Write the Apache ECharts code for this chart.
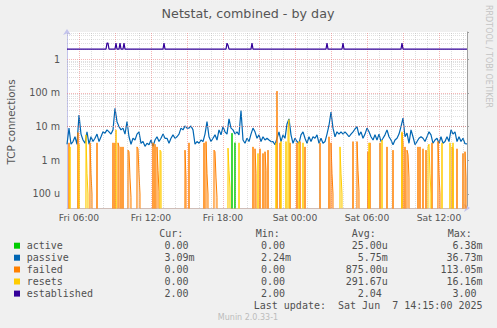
<!DOCTYPE html>
<html><head><meta charset="utf-8">
<script src="https://cdn.jsdelivr.net/npm/echarts@6/dist/echarts.min.js"></script>
<style>html,body{margin:0;padding:0;background:#f0f0f0}#c{width:497px;height:328px}</style>
</head><body><div id="c"></div>
<script>
// ---------------- data ----------------
const chartTitle = 'Netstat, combined - by day';
const yAxisTitle = 'TCP connections';
const xStartHour = 5;            // Fri 05:00 (hours since Fri 00:00)
const xEndHour = 38 + 1 / 3;     // Sat 14:20
const xLabelHours = [6, 12, 18, 24, 30, 36];
const xLabelTexts = ['Fri 06:00', 'Fri 12:00', 'Fri 18:00', 'Sat 00:00', 'Sat 06:00', 'Sat 12:00'];
const yMin = 3.84e-5, yMax = 6.43;
const yLabelValues = [1e-4, 1e-3, 1e-2, 1e-1, 1];
const yLabelTexts = ['100 u', '1 m', '10 m', '100 m', '1'];

// passive, milli-connections per second, every 10 minutes from Fri 05:00
const passiveStepMin = 10;
const passiveMilli = [
 3.0,9,3,3.6,5,3,22,6,4,3.2,7,3,5,3.6,4.5,6,3.6,5,7,6.4,8,7,6,8,35,14,10,8,9,6,14,5,3,4.5,4,6,7,3.2,3.6,2.6,3.2,2.9,4,2.6,4,5,3.6,4.5,6,4.5,
 4.5,3.2,4.5,5.7,4.5,5,6,9,8,10.5,9,9,10.5,8,3,3.6,3.2,4,3.6,6,14,5,3.6,4.5,5.7,4,8,5.7,10,7,6,17,9,8,6,7,5.7,30,4,3.2,4.5,3.6,6,9,7,4.5,5.7,3.6,5,4,
 4.5,4,3.6,3.6,2.9,4.5,7,3.6,5.7,4.5,12,17,5.7,3.2,4.5,3.6,3.2,5.7,7,4.5,3.2,5,3.6,5,4.5,5.7,3.2,4.5,3.2,3.6,6,11,27,9,5,7,6,7,6,7,6,5,6,7,8.5,10,5.5,7,4.5,6,
 9,7,5,4,5.7,4,6,3.6,4.5,5.7,8,5,4,2.9,4,4.5,6,10,18,5,6.4,3.2,8,5,2.9,3.6,4.5,5,4.5,3.6,5,7,5.7,3.2,4,4.5,3.2,5,3.2,3.6,5,3.6,8,6,7,3.6,5,3.6,4.5,3.1,3.09
];
// non-zero 5-minute samples: [minutes since Fri 00:00, milli-value]
const failedPoints = [
 [310,3.3],[355,6.67],[415,3.3],[420,0.4],[425,0.1],[450,3.3],[530,3.3],[540,3.3],[555,3.3],[560,2.5],[570,2.5],[580,2.5],
 [605,2.0],[610,1.8],[615,0.3],[620,0.08],[650,2.5],[655,2.2],[660,0.4],[665,0.1],[730,3.3],[740,3.0],[750,2.5],[755,0.5],[760,0.12],
 [890,2.0],[895,0.3],[910,3.3],[985,3.3],[995,3.6],[1000,0.4],[1005,0.1],[1035,2.0],[1040,1.8],[1045,0.3],[1050,0.08],
 [1230,2.5],[1240,2.2],[1245,0.4],[1265,2.2],[1280,1.6],[1290,1.8],[1295,0.5],[1305,2.0],[1350,113.05],[1365,3.3],[1415,3.3],
 [1450,3.3],[1465,3.6],[1490,2.5],[1565,3.3],[1610,5],[1620,3.3],[1625,0.4],[1630,0.1],[1730,3.6],[1750,3.6],[1755,0.5],[1760,0.12],
 [1805,1.8],[1815,3.3],[1865,3.3],[1900,2.5],[1930,2.0],[1975,6.4],[1980,3.3],[1990,2.5],[2000,2.0],[2005,1.5],[2010,0.3],
 [2055,2.5],[2065,2.5],[2080,2.2],[2095,2.0],[2125,3.3],[2155,3.6],[2160,0.4],[2165,0.1],[2225,2.5],[2230,2.2],[2250,2.2],[2280,1.6],[2290,1.8],[2295,0.3]
];
const resetsPoints = [
 [315,2.5],[360,3.0],[395,5.7],[400,0.4],[405,0.1],[545,8],[765,2],[770,1.8],[1105,2.3],[1110,0.5],[1115,0.15],[1160,3.3],
 [1255,1.6],[1345,3.3],[1370,3.6],[1395,3.6],[1405,8],[1410,16.16],[1460,3.6],[1480,3.3],[1665,2.5],[1670,0.4],[1675,0.1],
 [1810,3.3],[1875,4],[1975,7],[2105,2.5],[2110,3],[2115,0.4],[2120,0.1],[2175,3.3],[2215,3.3],[2230,3.3]
];
const activePoints = [[1125,6.38],[1140,3.33]];
const establishedBase = 2;
const establishedPoints = [[500,3],[505,3],[545,3],[565,3],[585,3],[785,3],[1100,3],[1105,2.6],[1225,3],[1600,3],[1680,3],[1975,3]];

const legendNames = ['active', 'passive', 'failed', 'resets', 'established'];
const legendColors = ['#00cc00', '#0066b3', '#ff8000', '#ffcc00', '#330099'];
const curVals = ['0.00', '3.09', '0.00', '0.00', '2.00'];
const curUnits = ['', 'm', '', '', ''];
const minVals = ['0.00', '2.24', '0.00', '0.00', '2.00'];
const minUnits = ['', 'm', '', '', ''];
const avgVals = ['25.00', '5.75', '875.00', '291.67', '2.04'];
const avgUnits = ['u', 'm', 'u', 'u', ''];
const maxVals = ['6.38', '36.73', '113.05', '16.16', '3.00'];
const maxUnits = ['m', 'm', 'm', 'm', ''];
const lastUpdate = 'Last update:  Sat Jun\u00a0\u00a07 14:15:00 2025';
const footer = 'Munin 2.0.33-1';
const sideText = 'RRDTOOL / TOBI OETIKER';

// ---------------- build ----------------
const FLOOR = 1e-20;
function spikeSeries(points, base, unit) {
  const pts = points.slice().sort((a, b) => a[0] - b[0]);
  const out = [[xStartHour, base]];
  for (let i = 0; i < pts.length; i++) {
    const t = pts[i][0], v = pts[i][1];
    const prev = i > 0 ? pts[i - 1][0] : -1e9;
    const next = i < pts.length - 1 ? pts[i + 1][0] : 1e9;
    if (t - 5 > prev) out.push([(t - 5) / 60, base]);
    out.push([t / 60, v * unit]);
    if (t + 5 < next) out.push([(t + 5) / 60, base]);
  }
  out.push([xEndHour, base]);
  return out;
}
const passiveData = passiveMilli.map((v, i) => [xStartHour + i * passiveStepMin / 60, v * 1e-3]);

// grid lines
const vMinor = [], vMajor = [];
for (let h = Math.ceil(xStartHour) + 1; h <= Math.floor(xEndHour); h++) (h % 3 === 0 ? vMajor : vMinor).push({ xAxis: h });
const hMinor = [];
for (let e = -5; e <= 0; e++) for (let k = 2; k <= 9; k++) { const v = k * Math.pow(10, e); if (v > yMin && v < yMax) hMinor.push({ yAxis: v }); }
const hMajor = yLabelValues.map(v => ({ yAxis: v }));

const gridMinor = 'rgba(170,170,170,0.38)';
const gridMajor = 'rgba(235,110,110,0.5)';
function gridSeries(data, color, z) {
  return {
    type: 'line', data: [[xStartHour, 1]], symbol: 'none', lineStyle: { opacity: 0 }, silent: true, z: z,
    markLine: { silent: true, symbol: 'none', label: { show: false }, animation: false,
      lineStyle: { color: color, width: 1, type: [1, 1] }, emphasis: { disabled: true }, data: data }
  };
}

const chart = echarts.init(document.getElementById('c'), null, { renderer: 'svg' });
const mono = 'DejaVu Sans Mono';
const rowY = [245.7, 257.7, 269.5, 281.5, 293.6];
const colUnitX = [188.5, 285, 381.8, 476.5];
const graphics = [
  { type: 'text', x: 248, y: 13, style: { text: chartTitle, fill: '#555', font: '12.7px "DejaVu Sans"', align: 'center', verticalAlign: 'middle' } },
  { type: 'text', x: 11, y: 122, rotation: Math.PI / 2, style: { text: yAxisTitle, fill: '#555', font: '10.4px "DejaVu Sans"', align: 'center', verticalAlign: 'middle' } },
  { type: 'text', x: 488, y: 5, rotation: -Math.PI / 2, style: { text: sideText, fill: '#c4c4c4', font: '8px "DejaVu Sans"', align: 'left', verticalAlign: 'middle' } },
  { type: 'text', x: 248, y: 317, style: { text: footer, fill: '#bcbcbc', font: '8px "DejaVu Sans"', align: 'center', verticalAlign: 'middle' } },
  { type: 'text', x: 482.5, y: 305.5, style: { text: lastUpdate, fill: '#505050', font: '10px "' + mono + '"', align: 'right', verticalAlign: 'middle' } }
];
const headers = ['Cur:', 'Min:', 'Avg:', 'Max:'];
const headerX = [159.3, 255.7, 351.7, 447.7];
headers.forEach((h, i) => graphics.push({ type: 'text', x: headerX[i], y: 233.5, style: { text: h, fill: '#505050', font: '10px "' + mono + '"', align: 'left', verticalAlign: 'middle' } }));
const cols = [[curVals, curUnits], [minVals, minUnits], [avgVals, avgUnits], [maxVals, maxUnits]];
legendNames.forEach((n, r) => {
  graphics.push({ type: 'rect', shape: { x: 14, y: rowY[r] - 3, width: 6, height: 6 }, style: { fill: legendColors[r] } });
  graphics.push({ type: 'text', x: 26.7, y: rowY[r], style: { text: n, fill: '#505050', font: '10px "' + mono + '"', align: 'left', verticalAlign: 'middle' } });
  cols.forEach((c, ci) => {
    graphics.push({ type: 'text', x: colUnitX[ci], y: rowY[r], style: { text: c[0][r], fill: '#505050', font: '10px "' + mono + '"', align: 'right', verticalAlign: 'middle' } });
    if (c[1][r]) graphics.push({ type: 'text', x: colUnitX[ci], y: rowY[r], style: { text: c[1][r], fill: '#505050', font: '10px "' + mono + '"', align: 'left', verticalAlign: 'middle' } });
  });
});

const axisCol = '#c4c4ec';
chart.setOption({
  animation: false,
  backgroundColor: '#f0f0f0',
  textStyle: { fontFamily: 'DejaVu Sans' },
  grid: { left: 67, top: 32, width: 400, height: 176, show: true, backgroundColor: '#ffffff', borderWidth: 0, containLabel: false, outerBoundsMode: 'none' },
  xAxis: {
    type: 'value', min: xStartHour, max: xEndHour, interval: 1,
    axisLine: { show: true, lineStyle: { color: axisCol, width: 1 }, symbol: ['none', 'arrow'], symbolSize: [6, 6], symbolOffset: [0, 3] },
    axisTick: { show: false }, splitLine: { show: false },
    axisLabel: { margin: 5, color: '#555', fontSize: 9.2, showMinLabel: true, showMaxLabel: true,
      formatter: v => { const i = xLabelHours.findIndex(h => Math.abs(h - v) < 1e-6); return i >= 0 ? xLabelTexts[i] : ''; } }
  },
  yAxis: [{
    type: 'log', logBase: 10, min: yMin, max: yMax,
    axisLine: { show: true, lineStyle: { color: axisCol, width: 1 }, symbol: ['none', 'arrow'], symbolSize: [6, 6], symbolOffset: [0, 3] },
    axisTick: { show: false }, splitLine: { show: false }, minorSplitLine: { show: false },
    axisLabel: { margin: 7, color: '#555', fontSize: 9.6,
      formatter: v => { const i = yLabelValues.findIndex(l => Math.abs(Math.log10(v) - Math.log10(l)) < 1e-6); return i >= 0 ? yLabelTexts[i] : ''; } }
  }, {
    type: 'log', logBase: 10, min: yMin, max: yMax, position: 'right',
    axisLine: { show: true, lineStyle: { color: '#a0a0a0', width: 1 } },
    axisTick: { show: true, length: 2, lineStyle: { color: '#a0a0a0' } }, axisLabel: { show: false }, splitLine: { show: false }
  }],
  graphic: graphics,
  series: [
    gridSeries(vMinor.concat(hMinor), gridMinor, 1),
    gridSeries(vMajor.concat(hMajor), gridMajor, 1),
    { name: 'active', type: 'line', data: spikeSeries(activePoints, FLOOR, 1e-3), symbol: 'none', z: 3,
      lineStyle: { color: legendColors[0], width: 1 } },
    { name: 'passive', type: 'line', data: passiveData, symbol: 'none', z: 3,
      lineStyle: { color: legendColors[1], width: 1.2 } },
    { name: 'failed', type: 'line', data: spikeSeries(failedPoints, FLOOR, 1e-3), symbol: 'none', z: 4,
      lineStyle: { color: legendColors[2], width: 1 }, areaStyle: { origin: 'start', color: legendColors[2], opacity: 0.22 } },
    { name: 'resets', type: 'line', data: spikeSeries(resetsPoints, FLOOR, 1e-3), symbol: 'none', z: 4,
      lineStyle: { color: legendColors[3], width: 1 }, areaStyle: { origin: 'start', color: legendColors[3], opacity: 0.25 } },
    { name: 'established', type: 'line', data: spikeSeries(establishedPoints, establishedBase, 1), symbol: 'none', z: 5,
      lineStyle: { color: legendColors[4], width: 1.2 } }
  ]
});
</script></body></html>
